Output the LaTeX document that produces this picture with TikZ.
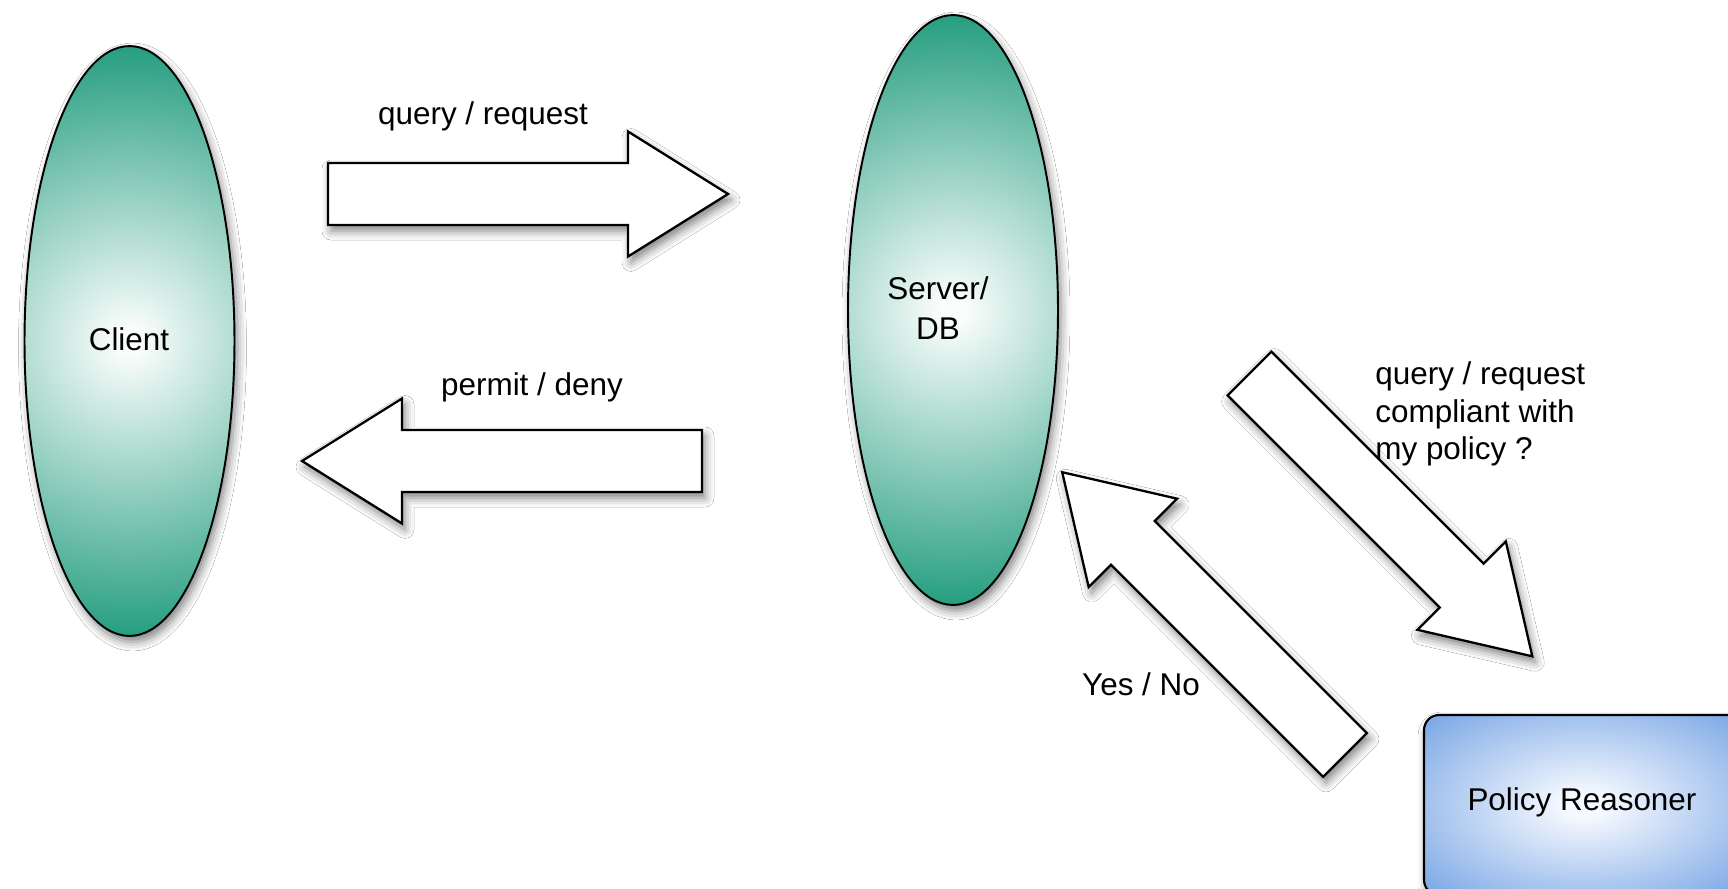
\documentclass[tikz,border=0pt]{standalone}
\usepackage{fontspec}
\setmainfont{Liberation Sans}
\usetikzlibrary{shapes.geometric,shadows.blur}

% palette
\definecolor{tealrim}{RGB}{38,158,128}
\definecolor{tealcore}{RGB}{250,253,252}
\definecolor{bluerim}{RGB}{118,164,228}
\definecolor{bluecore}{RGB}{246,249,255}

% glowing fills: pale centre fading out to the rim colour
\pgfdeclareradialshading{tealglow}{\pgfpoint{0bp}{0bp}}{color(0bp)=(tealcore); color(1bp)=(tealcore); color(25bp)=(tealrim); color(50bp)=(tealrim)}
\pgfdeclareradialshading{blueglow}{\pgfpoint{0bp}{0bp}}{color(0bp)=(bluecore); color(3bp)=(bluecore); color(36bp)=(bluerim); color(50bp)=(bluerim)}

\tikzset{
  softshadow/.style={blur shadow={shadow xshift=0.06cm, shadow yshift=-0.12cm,
      shadow blur radius=0.18cm, shadow opacity=50}},
  % ellipse filled with a round (not stretched) glow reaching the rim at top and bottom
  party/.style={ellipse, draw=black, line width=1.1pt,
      minimum width=4.2cm, minimum height=11.8cm, inner sep=0pt, softshadow,
      path picture={\shade[shading=tealglow] (path picture bounding box.center) circle[radius=5.9cm];}},
  reasoner/.style={rectangle, rounded corners=0.3cm, draw=black, line width=1.2pt,
      shading=blueglow, minimum width=6.4cm, minimum height=3.6cm, softshadow},
  bigarrow/.style={draw=black, fill=white, line width=1.3pt, line join=miter, softshadow},
  lbl/.style={font=\fontsize{17.9}{21.3}\selectfont, inner sep=0pt},
}

\begin{document}
\begin{tikzpicture}[x=0.02cm, y=-0.02cm]
  \path[use as bounding box, clip] (0,0) rectangle (1728,889);
  \fill[white] (0,0) rectangle (1728,889);

  % the three parties
  \node[party] (client) at (129.5,341) {};
  \node[lbl] (clientlbl) at (129,339) {Client};
  \node[party] (server) at (953,310) {};
  \node[lbl, align=center, font=\fontsize{17.9}{23.2}\selectfont] (serverlbl) at (938,308) {Server/\\DB};
  \node[reasoner] (reasoner) at (1584,805) {};
  \node[lbl] (reasonerlbl) at (1582,802) {Policy Reasoner};

  % block arrows between the parties
  \draw[bigarrow] (328,163) -- (628,163) -- (628,131.5) -- (728,194)
        -- (628,256.5) -- (628,225) -- (328,225) -- cycle;
  \draw[bigarrow] (702,430) -- (402,430) -- (402,398.5) -- (302,461)
        -- (402,523.5) -- (402,492) -- (702,492) -- cycle;
  \draw[bigarrow] (1271.4,351.6) -- (1483.6,563.7) -- (1505.8,541.4) -- (1532.3,656.3)
        -- (1417.4,629.8) -- (1439.7,607.5) -- (1227.6,395.4) -- cycle;
  \draw[bigarrow] (1366.9,733.1) -- (1154.8,521.0) -- (1177.1,498.7) -- (1062.2,472.2)
        -- (1088.7,587.1) -- (1111.0,564.8) -- (1323.1,776.9) -- cycle;

  % arrow captions
  \node[lbl, anchor=base] (reqlbl) at (483,124) {query / request};
  \node[lbl, anchor=base] (permlbl) at (532,395) {permit / deny};
  \node[lbl, anchor=west, align=left] (asklbl) at (1375,414) {query / request\\compliant with\\my policy ?};
  \node[lbl, anchor=base] (anslbl) at (1141,695) {Yes / No};
\end{tikzpicture}
\end{document}
